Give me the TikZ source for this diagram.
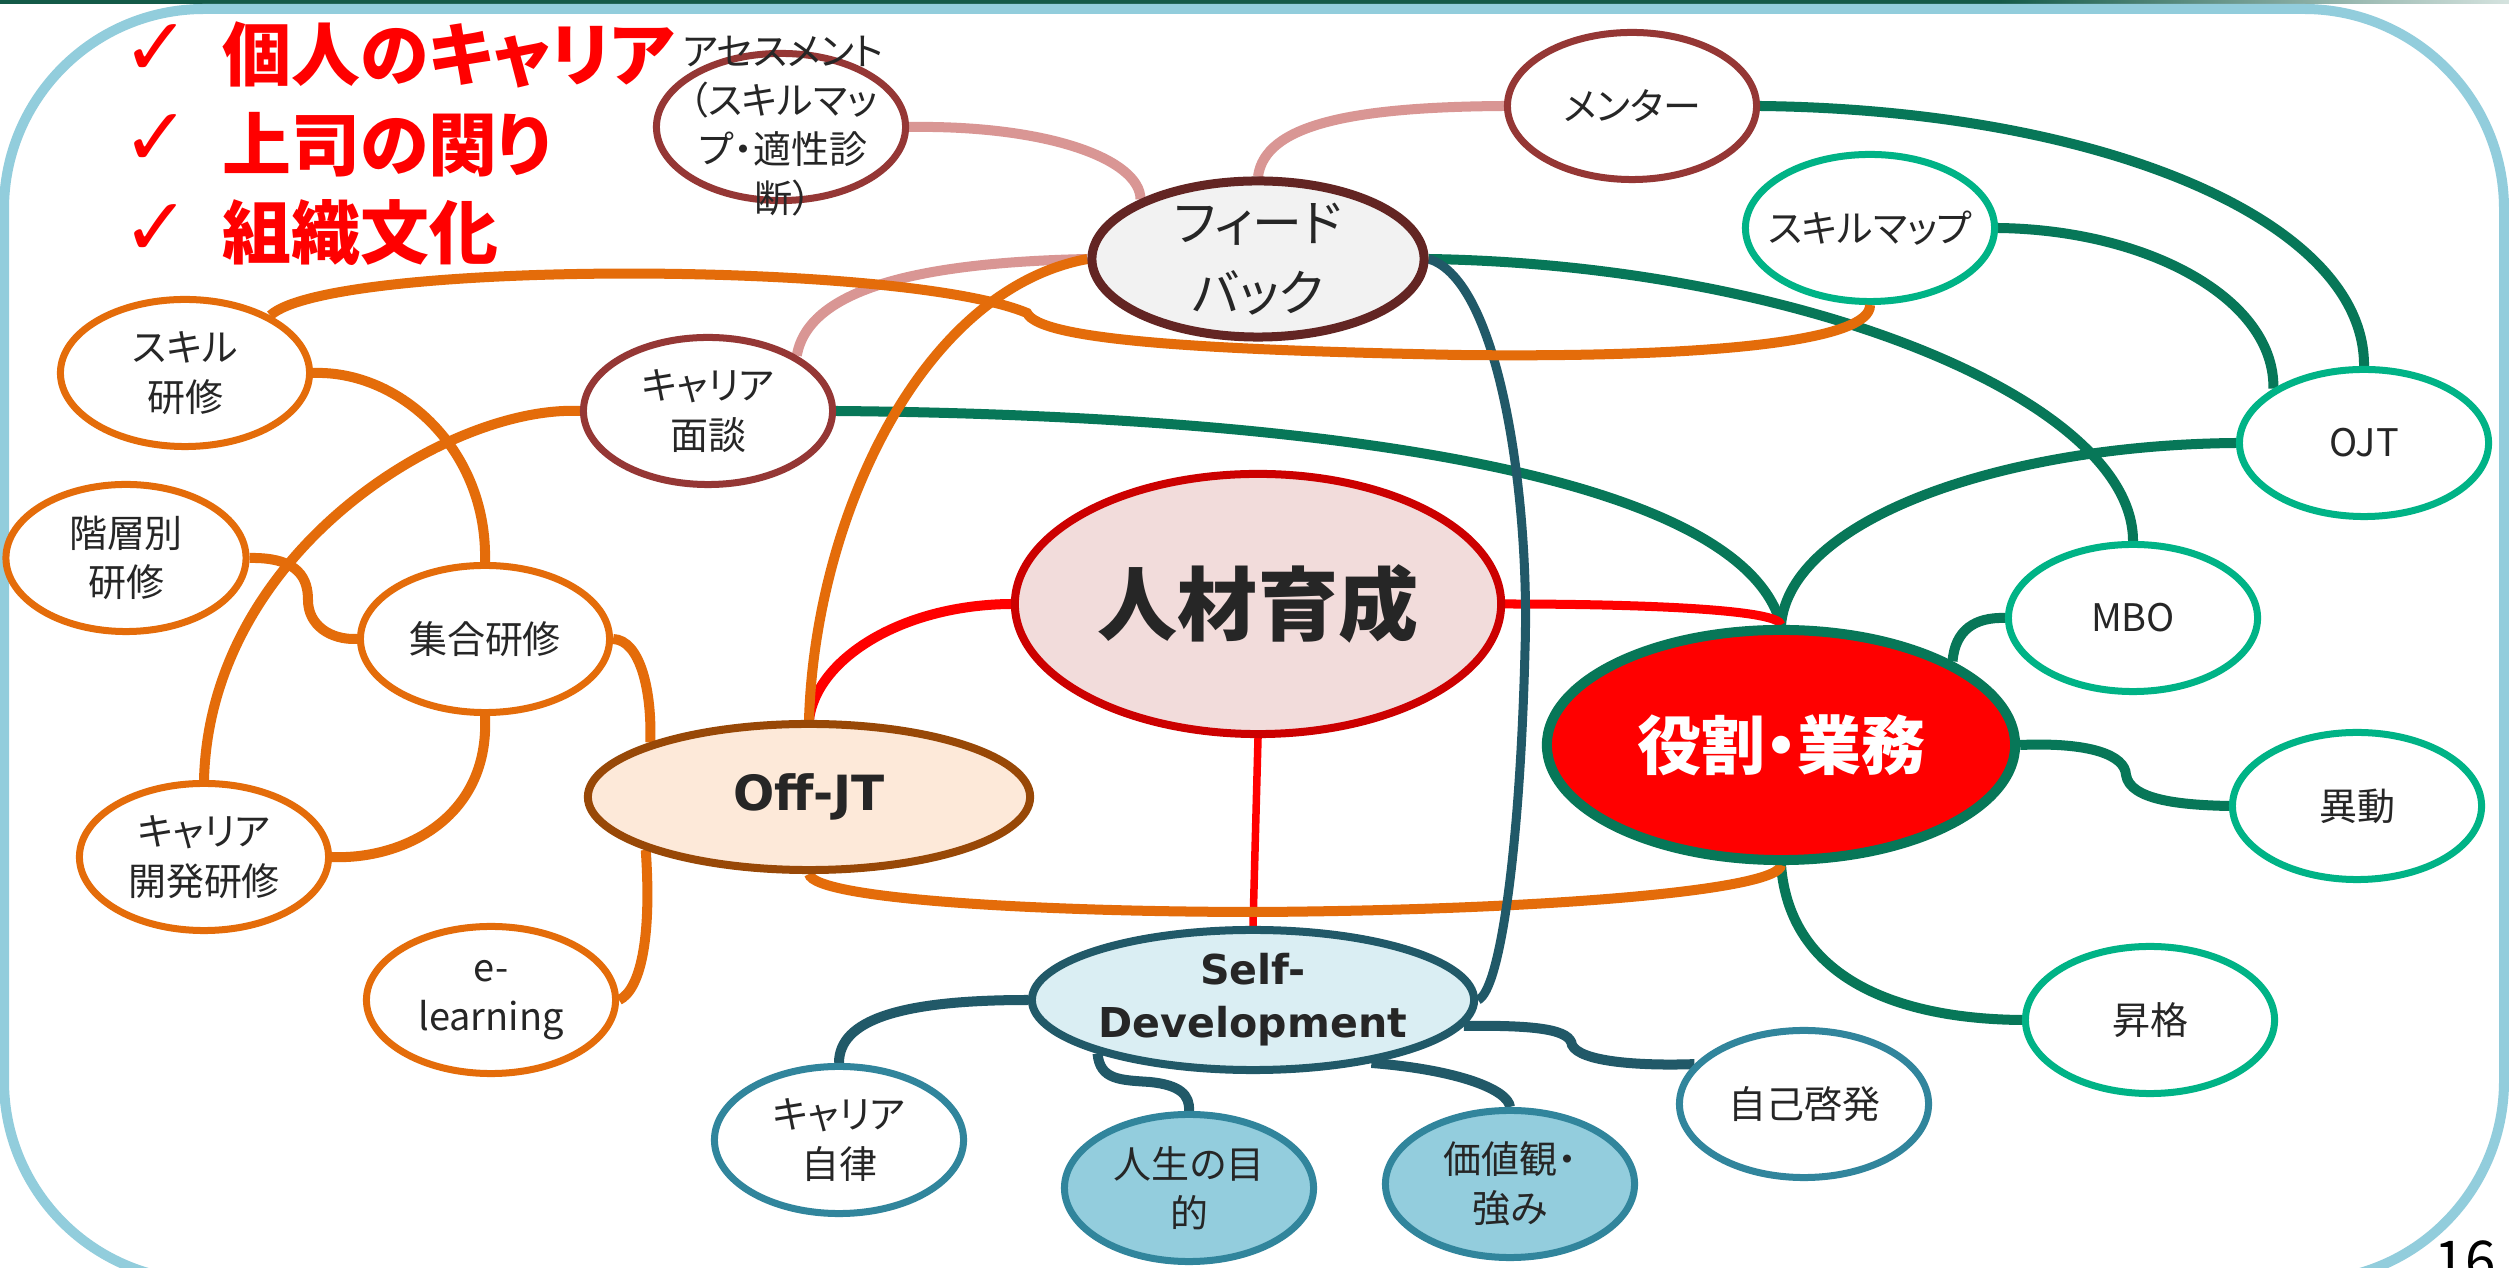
\documentclass[tikz,border=0pt]{standalone}
\usepackage{fontspec}
\setmainfont{Noto Sans CJK JP}[RawFeature=+palt]
\newfontfamily\symfont{DejaVu Sans}
\newfontfamily\latfont{DejaVu Sans}
\usetikzlibrary{shapes.geometric}
\pgfdeclarelayer{back}
\pgfdeclarelayer{bg}
\pgfsetlayers{back,bg,main}
\definecolor{frameblue}{HTML}{92CDDC}
\definecolor{orng}{HTML}{E46C0A}
\definecolor{pinkc}{HTML}{D99694}
\definecolor{dred}{HTML}{953735}
\definecolor{fbborder}{HTML}{632523}
\definecolor{fbfill}{HTML}{F2F2F2}
\definecolor{jzfill}{HTML}{F2DCDB}
\definecolor{jzborder}{HTML}{CC0000}
\definecolor{dgreen}{HTML}{077758}
\definecolor{tealc}{HTML}{00B386}
\definecolor{offfill}{HTML}{FDE9D9}
\definecolor{offborder}{HTML}{984807}
\definecolor{sdfill}{HTML}{DAEEF3}
\definecolor{sdborder}{HTML}{215968}
\definecolor{bluec}{HTML}{31859C}
\definecolor{lbfill}{HTML}{93CDDD}
\definecolor{txtc}{HTML}{262626}
\definecolor{topgreen}{HTML}{145A48}
\definecolor{toplight}{HTML}{D5E3DF}
\tikzset{
  sm/.style={ellipse, minimum width=2.49cm, minimum height=1.47cm, inner sep=0, line width=0.07cm, fill=white},
  big/.style={ellipse, inner sep=0, line width=0.08cm},
  txt/.style={align=center, text=txtc, inner sep=0, font=\fontsize{10.8}{14}\selectfont},
  conn/.style={line width=0.1cm},
  titletxt/.style={anchor=west, inner sep=0, text=red, font=\fontsize{19.6}{24}\selectfont\bfseries},
  chk/.style={inner sep=0, text=red, font=\symfont\fontsize{23}{26}\selectfont},
}
\begin{document}
\begin{tikzpicture}[x=0.01cm, y=-0.01cm]
\useasboundingbox (0,0) rectangle (2509,1268);
\begin{pgfonlayer}{back}
\fill[white] (0,0) rectangle (2509,1268);
\shade[left color=topgreen, right color=toplight] (2000,0) rectangle (2509,4);
\fill[topgreen] (0,0) rectangle (2000,4);
\draw[frameblue, line width=0.1cm, rounded corners=2cm] (4,9) rectangle (2504,1281);
\end{pgfonlayer}

% title
\node[chk] (c1) at (156,50) {✓};
\node[chk] (c2) at (156,140) {✓};
\node[chk] (c3) at (156,230) {✓};
\node[titletxt] (t1) at (222,55) {個人のキャリア};
\node[titletxt] (t2) at (222,145) {上司の関り};
\node[titletxt] (t3) at (222,233) {組織文化};

% nodes
\node[sm, draw=dred] (ases) at (781,127) {};
\node[sm, draw=dred] (mentor) at (1632,106) {};
\node[big, draw=fbborder, fill=fbfill, line width=0.09cm, minimum width=3.32cm, minimum height=1.56cm] (fb) at (1258,259) {};
\node[sm, draw=tealc] (skillmap) at (1870,228) {};
\node[sm, draw=orng] (skillken) at (185,373) {};
\node[sm, draw=dred] (menda) at (708,411) {};
\node[sm, draw=tealc] (ojt) at (2364,443) {};
\node[sm, draw=orng, minimum width=2.4cm] (kaiso) at (126,558) {};
\node[big, draw=jzborder, fill=jzfill, minimum width=4.86cm, minimum height=2.6cm] (jinzai) at (1258,604) {};
\node[sm, draw=orng] (shugo) at (485,639) {};
\node[sm, draw=tealc] (mbo) at (2133,618) {};
\node[big, draw=dgreen, fill=red, line width=0.1cm, minimum width=4.68cm, minimum height=2.3cm] (yakuwari) at (1781,745) {};
\node[big, draw=offborder, fill=offfill, minimum width=4.42cm, minimum height=1.46cm] (offjt) at (809,797) {};
\node[sm, draw=tealc] (ido) at (2357,806) {};
\node[sm, draw=orng] (kaihatsu) at (204,857) {};
\node[sm, draw=orng] (elearn) at (491,1000) {};
\node[big, draw=sdborder, fill=sdfill, minimum width=4.42cm, minimum height=1.40cm] (selfdev) at (1253,1000) {};
\node[sm, draw=tealc] (shokaku) at (2150,1020) {};
\node[sm, draw=bluec] (jiko) at (1804,1104) {};
\node[sm, draw=bluec] (jiritsu) at (839,1140) {};
\node[sm, draw=bluec, fill=lbfill] (jinsei) at (1189,1188) {};
\node[sm, draw=bluec, fill=lbfill] (kachi) at (1510,1184) {};

% texts
\node[txt] (ases-t) at (783,126) {アセスメント\\（スキルマッ\\プ・適性診\\断）};
\node[txt] (mentor-t) at (mentor) {メンター};
\node[txt, font=\fontsize{14.2}{20}\selectfont] (fb-t) at (fb) {フィード\\バック};
\node[txt] (skillmap-t) at (skillmap) {スキルマップ};
\node[txt] (skillken-t) at (skillken) {スキル\\研修};
\node[txt] (menda-t) at (menda) {キャリア\\面談};
\node[txt] (ojt-t) at (ojt) {OJT};
\node[txt] (kaiso-t) at (kaiso) {階層別\\研修};
\node[txt, font=\fontsize{22.8}{26}\selectfont\bfseries] (jinzai-t) at (jinzai) {人材育成};
\node[txt] (shugo-t) at (shugo) {集合研修};
\node[txt] (mbo-t) at (mbo) {MBO};
\node[txt, text=white, font=\fontsize{18.2}{22}\selectfont\bfseries] (yakuwari-t) at (yakuwari) {役割・業務};
\node[txt, font=\latfont\fontsize{13.8}{16}\selectfont\bfseries] (offjt-t) at (offjt) {Off-JT};
\node[txt] (ido-t) at (ido) {異動};
\node[txt] (kaihatsu-t) at (kaihatsu) {キャリア\\開発研修};
\node[txt] (elearn-t) at (elearn) {e-\\learning};
\node[txt, font=\latfont\fontsize{11.7}{15}\selectfont\bfseries] (selfdev-t) at (selfdev) {Self-\\Development};
\node[txt] (shokaku-t) at (shokaku) {昇格};
\node[txt] (jiko-t) at (jiko) {自己啓発};
\node[txt] (jiritsu-t) at (jiritsu) {キャリア\\自律};
\node[txt] (jinsei-t) at (jinsei) {人生の目\\的};
\node[txt] (kachi-t) at (kachi) {価値観・\\強み};

\node[inner sep=0, anchor=north west, text=black, font=\fontsize{15.6}{18}\selectfont] (pg) at (2434,1240) {16};

\begin{pgfonlayer}{bg}
% pink
\draw[conn, pinkc] (ases.east) .. controls (1050,125) and (1140,160) .. (fb.153);
\draw[conn, pinkc] (fb.north) .. controls (1265,125) and (1350,107) .. (mentor.west);
\draw[conn, pinkc] (menda.32) .. controls (810,280) and (950,262) .. (fb.west);
% green
\draw[conn, dgreen] (mentor.east) .. controls (2100,110) and (2365,220) .. (ojt.north);
\draw[conn, dgreen] (skillmap.east) .. controls (2150,230) and (2275,300) .. (ojt.149);
\draw[conn, dgreen] (fb.east) .. controls (1800,265) and (2133,400) .. (mbo.north);
\draw[conn, dgreen] (menda.east) .. controls (1300,415) and (1740,470) .. (yakuwari.north);
\draw[conn, dgreen] (ojt.west) .. controls (2000,445) and (1790,520) .. (yakuwari.north);
\draw[conn, dgreen] (yakuwari.26) .. controls (1955,630) and (1975,617) .. (mbo.west);
\draw[conn, dgreen] (yakuwari.east) .. controls (2090,742) and (2125,755) .. (2126,775) .. controls (2130,800) and (2180,805) .. (ido.west);
\draw[conn, dgreen] (yakuwari.south) .. controls (1790,980) and (1900,1019) .. (shokaku.west);
% red
\draw[red, line width=0.1cm] (jinzai.west) .. controls (900,605) and (816,660) .. (offjt.north);
\draw[red, line width=0.09cm] (jinzai.east) .. controls (1650,604) and (1780,610) .. (yakuwari.north);
\draw[red, line width=0.075cm] (jinzai.south) -- (selfdev.north);
% orange
\draw[conn, orng] (offjt.north) .. controls (815,520) and (920,290) .. (fb.west);
\draw[conn, orng] (skillken.east) .. controls (400,370) and (488,450) .. (shugo.north);
\draw[conn, orng] (kaiso.east) .. controls (300,557) and (308,580) .. (308,600) .. controls (308,625) and (330,640) .. (shugo.west);
\draw[conn, orng] (shugo.south) .. controls (490,820) and (400,860) .. (kaihatsu.east);
\draw[conn, orng] (menda.west) .. controls (450,405) and (210,550) .. (kaihatsu.north);
\draw[conn, orng] (shugo.east) .. controls (640,640) and (652,690) .. (offjt.161);
\draw[conn, orng] (offjt.198) .. controls (652,940) and (640,990) .. (elearn.east);
\draw[conn, orng] (offjt.south) .. controls (815,900) and (1050,912) .. (1260,912) .. controls (1550,910) and (1780,890) .. (yakuwari.south);
% dark teal
\draw[sdborder, line width=0.09cm] (fb.east) .. controls (1500,280) and (1530,500) .. (1525,650) .. controls (1520,850) and (1500,990) .. (selfdev.east);
\draw[conn, sdborder] (selfdev.west) .. controls (900,1000) and (839,1020) .. (jiritsu.north);
\draw[conn, sdborder] (selfdev.199) .. controls (1100,1080) and (1120,1080) .. (1150,1082) .. controls (1180,1085) and (1190,1095) .. (jinsei.north);
\draw[conn, sdborder] (selfdev.-28) .. controls (1460,1070) and (1508,1090) .. (kachi.north);
\draw[conn, sdborder] (selfdev.-7) .. controls (1540,1025) and (1570,1030) .. (1572,1045) .. controls (1580,1062) and (1640,1066) .. (jiko.160);
\end{pgfonlayer}
% long orange connector drawn over the feedback node
\draw[conn, orng] (skillken.34) .. controls (330,260) and (900,260) .. (1027,313) .. controls (1040,340) and (1200,350) .. (1460,355) .. controls (1720,358) and (1871,340) .. (skillmap.south);
\end{tikzpicture}
\end{document}
